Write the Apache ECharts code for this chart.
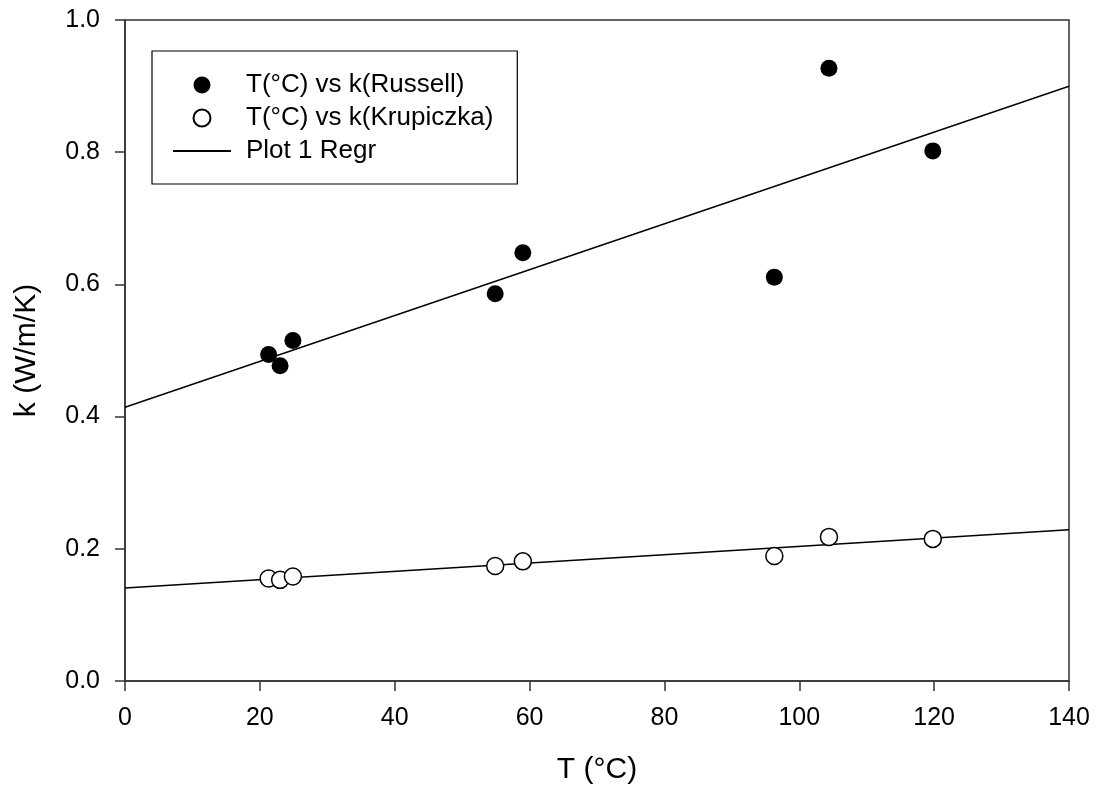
<!DOCTYPE html>
<html>
<head>
<meta charset="utf-8">
<script src="https://cdn.jsdelivr.net/npm/echarts@6/dist/echarts.min.js"></script>
<style>html,body{margin:0;padding:0;background:#fff}#c{width:1098px;height:792px}</style>
</head>
<body>
<div id="c"></div>
<script>
var temps = [21.3, 23.0, 24.9, 54.9, 59.0, 96.3, 104.4, 119.8];
var kRussell = [0.494, 0.477, 0.515, 0.586, 0.648, 0.611, 0.927, 0.802];
var kKrupiczka = [0.155, 0.153, 0.158, 0.174, 0.181, 0.189, 0.218, 0.215];
var xTicks = [0, 20, 40, 60, 80, 100, 120, 140];
var yTicks = [0.0, 0.2, 0.4, 0.6, 0.8, 1.0];

function pairs(xs, ys) { return xs.map(function (x, i) { return [x, ys[i]]; }); }
function regr(xs, ys, x0, x1) {
  var n = xs.length, mx = 0, my = 0;
  for (var i = 0; i < n; i++) { mx += xs[i]; my += ys[i]; }
  mx /= n; my /= n;
  var sxy = 0, sxx = 0;
  for (var j = 0; j < n; j++) { sxy += (xs[j] - mx) * (ys[j] - my); sxx += (xs[j] - mx) * (xs[j] - mx); }
  var b = sxy / sxx, a = my - b * mx;
  return [[x0, a + b * x0], [x1, a + b * x1]];
}
var xMin = xTicks[0], xMax = xTicks[xTicks.length - 1];
var font = '"Liberation Sans", Arial, sans-serif';
var axisCol = '#333';

var chart = echarts.init(document.getElementById('c'), null, { renderer: 'canvas' });
chart.setOption({
  animation: false,
  backgroundColor: '#fff',
  textStyle: { fontFamily: font },
  grid: { left: 125, right: 29, top: 20, bottom: 111, show: true, borderColor: axisCol, borderWidth: 1.5, containLabel: false, outerBoundsMode: 'none' },
  legend: {
    orient: 'vertical', left: 152, top: 51,
    borderColor: '#000', borderWidth: 1.2,
    padding: [21, 24, 20, 20],
    itemWidth: 58, itemHeight: 17, itemGap: 7,
    textStyle: { fontFamily: font, fontSize: 26, color: '#000', padding: [0, 0, 0, 10] },
    data: [
      { name: 'T(°C) vs k(Russell)' },
      { name: 'T(°C) vs k(Krupiczka)' },
      { name: 'Plot 1 Regr', itemStyle: { opacity: 0 } }
    ]
  },
  xAxis: {
    type: 'value', min: xMin, max: xMax, interval: 20,
    name: 'T (°C)', nameLocation: 'middle', nameGap: 74,
    nameTextStyle: { fontFamily: font, fontSize: 30, color: '#000' },
    axisLine: { show: true, lineStyle: { color: axisCol, width: 1.5 } },
    axisTick: { show: true, inside: false, length: 10, lineStyle: { color: axisCol, width: 1.5 } },
    axisLabel: { fontFamily: font, fontSize: 25, color: '#000', margin: 25 },
    splitLine: { show: false }
  },
  yAxis: {
    type: 'value', min: yTicks[0], max: yTicks[yTicks.length - 1], interval: 0.2,
    name: 'k (W/m/K)', nameLocation: 'middle', nameGap: 83, nameRotate: 90,
    nameTextStyle: { fontFamily: font, fontSize: 30, color: '#000' },
    axisLine: { show: true, lineStyle: { color: axisCol, width: 1.5 } },
    axisTick: { show: true, inside: false, length: 10, lineStyle: { color: axisCol, width: 1.5 } },
    axisLabel: { fontFamily: font, fontSize: 25, color: '#000', margin: 25, formatter: function (v) { return v.toFixed(1); } },
    splitLine: { show: false }
  },
  series: [
    {
      name: 'Plot 1 Regr', type: 'line', data: regr(temps, kRussell, xMin, xMax),
      symbol: 'none', lineStyle: { color: '#000', width: 1.4 }, itemStyle: { color: 'rgba(0,0,0,0)' }, z: 1
    },
    {
      name: 'Plot 1 Regr', type: 'line', data: regr(temps, kKrupiczka, xMin, xMax),
      symbol: 'none', lineStyle: { color: '#000', width: 1.4 }, itemStyle: { color: 'rgba(0,0,0,0)' }, z: 1
    },
    {
      name: 'T(°C) vs k(Russell)', type: 'scatter', data: pairs(temps, kRussell),
      symbol: 'circle', symbolSize: 17, itemStyle: { color: '#000', opacity: 1 }, z: 3
    },
    {
      name: 'T(°C) vs k(Krupiczka)', type: 'scatter', data: pairs(temps, kKrupiczka),
      symbol: 'circle', symbolSize: 17,
      itemStyle: { color: '#fff', borderColor: '#000', borderWidth: 1.5, opacity: 1 }, z: 3
    }
  ]
});
</script>
</body>
</html>
